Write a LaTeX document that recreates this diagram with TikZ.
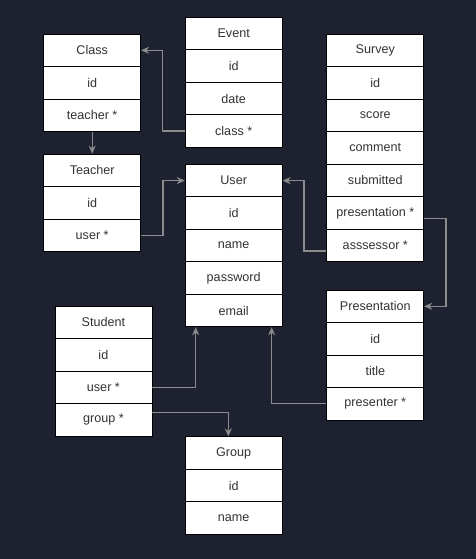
\documentclass[tikz,border=0pt]{standalone}
\usepackage{fontspec}
\setmainfont{Liberation Sans}
\usetikzlibrary{arrows.meta}
\definecolor{bgnavy}{HTML}{1D2130}
\definecolor{linkgray}{HTML}{8C8C8C}
\tikzset{
  field/.style={draw=black, fill=white, line width=0.8pt, minimum width=97pt, minimum height=32.5pt, inner sep=0pt, text=black!80, font=\fontsize{12.6}{15}\selectfont},
  link/.style={draw=linkgray, line width=1.3pt, -{Stealth[length=8pt, width=7pt]}}
}
\begin{document}
\begin{tikzpicture}[x=1pt, y=-1pt]
          \fill[bgnavy] (0, 0) rectangle (476, 559);
          \useasboundingbox (0, 0) rectangle (476, 559);
          \foreach \t [count=\i from 0] in {Class, id, teacher *}
            \node[field] (cl\i) at (92.2, 50.3 + 32.5*\i) {\t};
          \foreach \t [count=\i from 0] in {Event, id, date, class *}
            \node[field] (ev\i) at (233.7, 33.6 + 32.5*\i) {\t};
          \foreach \t [count=\i from 0] in {Teacher, id, user *}
            \node[field] (te\i) at (92.2, 170.3 + 32.5*\i) {\t};
          \foreach \t [count=\i from 0] in {User, id, name, password, email}
            \node[field] (us\i) at (233.7, 180.6 + 32.5*\i) {\t};
          \foreach \t [count=\i from 0] in {Survey, id, score, comment, submitted, presentation *, asssessor *}
            \node[field] (sv\i) at (375.3, 50.3 + 32.5*\i) {\t};
          \foreach \t [count=\i from 0] in {Presentation, id, title, presenter *}
            \node[field] (pr\i) at (375.3, 306.3 + 32.5*\i) {\t};
          \foreach \t [count=\i from 0] in {Student, id, user *, group *}
            \node[field] (st\i) at (103.4, 322.3 + 32.5*\i) {\t};
          \foreach \t [count=\i from 0] in {Group, id, name}
            \node[field] (gr\i) at (233.7, 453 + 32.5*\i) {\t};
          % foreign keys
          \draw[link] (ev3.west) -- ++(-22, 0) |- (cl0.east);
          \draw[link] (cl2.south) -- (te0.north);
          \draw[link] (te2.east) -- ++(22, 0) |- (us0.west);
          \draw[link] ([yshift=-5.7]sv6.west) -- ++(-22.4, 0) |- (us0.east);
          \draw[link] ([yshift=-6]sv5.east) -- ++(21.7, 0) |- (pr0.east);
          \draw[link] (pr3.west) -| ([xshift=38]us4.south);
          \draw[link] (st2.east) -| ([xshift=-38]us4.south);
          \draw[link] ([yshift=7.5]st3.east) -| ([xshift=-5.4]gr0.north);
        \end{tikzpicture}
\end{document}
